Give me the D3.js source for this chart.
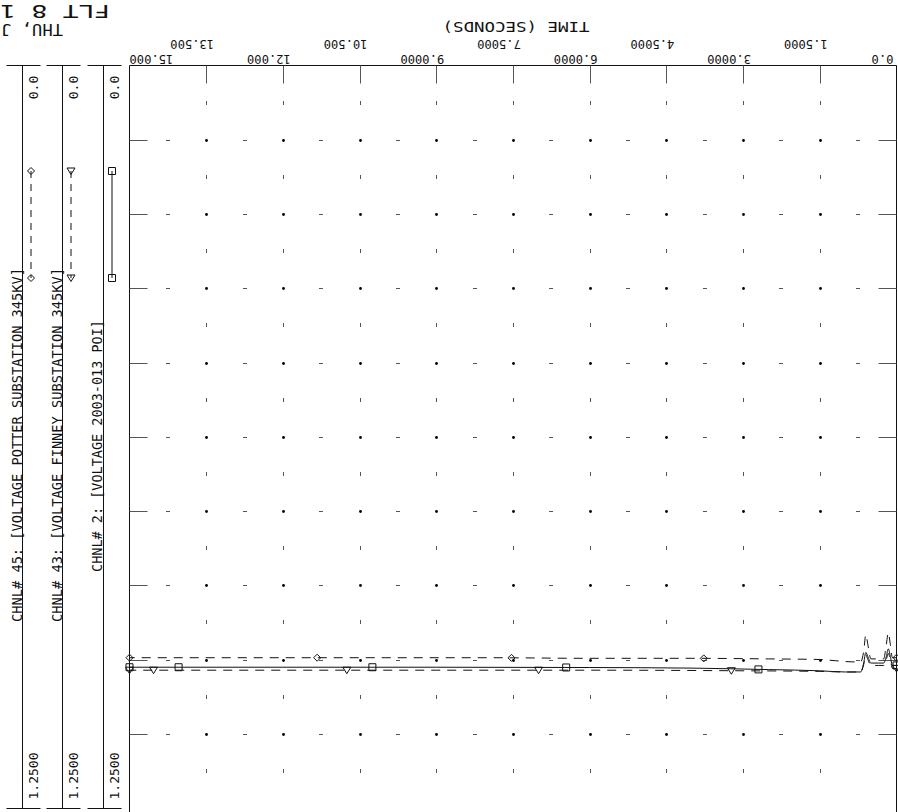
<!DOCTYPE html>
<html><head><meta charset="utf-8">
<script src="https://cdn.jsdelivr.net/npm/d3@7"></script>
<style>body{margin:0;background:#fff}</style>
</head><body><svg id="c" width="898" height="812"></svg>
<script>
// ---------- data ----------
const timeTicks = [0, 1.5, 3, 4.5, 6, 7.5, 9, 10.5, 12, 13.5, 15];
const timeTickLabels = ["0.0", "1.5000", "3.0000", "4.5000", "6.0000", "7.5000", "9.0000", "10.500", "12.000", "13.500", "15.000"];
const voltTicks = [0, 0.125, 0.25, 0.375, 0.5, 0.625, 0.75, 0.875, 1.0, 1.125, 1.25];
const voltAxisLabels = ["0.0", "1.2500"];
const channelNames = [
  "CHNL# 45: [VOLTAGE POTTER SUBSTATION 345KV]",
  "CHNL# 43: [VOLTAGE FINNEY SUBSTATION 345KV]",
  "CHNL# 2: [VOLTAGE 2003-013 POI]"
];
const headerTitle = "FLT 8 1";
const headerDate = "THU, J";
const xAxisTitle = "TIME (SECONDS)";

const potterT = [0, 0.08, 0.12, 0.16, 0.20, 0.25, 0.35, 0.50, 0.56, 0.60, 0.64, 0.70, 0.85, 1.2, 1.5, 2.5, 4, 6, 8, 10, 12, 15];
const potterV = [0.997, 0.997, 0.975, 0.955, 0.975, 0.999, 0.999, 0.999, 0.975, 0.958, 0.985, 1.004, 1.004, 1.002, 1.000, 0.999, 0.998, 0.998, 0.997, 0.997, 0.997, 0.997];
const potterMarkT = [0, 3.77, 7.53, 11.33, 15];

const finneyT = [0, 0.08, 0.12, 0.16, 0.20, 0.25, 0.35, 0.50, 0.56, 0.60, 0.64, 0.70, 1.0, 1.5, 3, 6, 9, 12, 15];
const finneyV = [1.015, 1.015, 1.000, 0.990, 1.000, 1.010, 1.010, 1.010, 1.000, 0.992, 1.008, 1.021, 1.021, 1.020, 1.019, 1.018, 1.018, 1.018, 1.018];
const finneyMarkT = [0, 3.23, 7.0, 10.75, 14.53, 15];

const poiT = [0, 0.08, 0.12, 0.16, 0.20, 0.25, 0.35, 0.50, 0.56, 0.60, 0.64, 0.70, 1.0, 1.5, 2.5, 4, 6, 9, 12, 15];
const poiV = [1.010, 1.010, 0.995, 0.982, 0.995, 1.006, 1.006, 1.006, 0.995, 0.988, 1.005, 1.021, 1.021, 1.019, 1.017, 1.0145, 1.0135, 1.013, 1.013, 1.013];
const poiMarkT = [0, 2.70, 6.46, 10.25, 14.04, 15];

// ---------- layout ----------
const svg = d3.select("#c");
svg.append("rect").attr("width", 898).attr("height", 812).attr("fill", "#fff");
const X0 = 129.5, X1 = 896.5, Y0 = 65.5, Y1 = 808;
const x = d3.scaleLinear().domain([0, 15]).range([X1, X0]);
const y = d3.scaleLinear().domain([0, 1.25]).range([Y0, Y1]);
const FONT = "DejaVu Sans Mono, Liberation Mono, monospace";
const ink = "#111";

function txt(str, tx, ty, rot, anchor, size, len) {
  const t = svg.append("text")
    .attr("transform", `translate(${tx},${ty}) rotate(${rot})`)
    .attr("text-anchor", anchor)
    .attr("font-family", FONT)
    .attr("font-size", size)
    .attr("fill", ink)
    .text(str);
  if (len) t.attr("textLength", len).attr("lengthAdjust", "spacingAndGlyphs");
  return t;
}

// header texts (rotated 180)
txt(headerTitle, 110, 4.5, 180, "start", 18, 110);
txt(headerDate, 63, 24, 180, "start", 16, 62);
txt(xAxisTitle, 516, 22, 180, "middle", 14, 147);

// time tick labels
timeTicks.forEach((t, i) => {
  const lab = timeTickLabels[i];
  const w = lab.length * 7.3;
  let cx = x(t) - 14;
  cx = Math.max(cx, X0 + w / 2);
  const ty = (i % 2 === 1) ? 40 : 55;
  txt(lab, cx, ty, 180, "middle", 12, w);
});

// plot frame
const g = svg.append("g").attr("fill", "none").attr("stroke", ink).attr("stroke-width", 1);
g.append("line").attr("x1", X0).attr("x2", X1).attr("y1", Y0).attr("y2", Y0);
g.append("line").attr("x1", X0).attr("x2", X0).attr("y1", Y0).attr("y2", 812);
g.append("line").attr("x1", X1).attr("x2", X1).attr("y1", Y0).attr("y2", 812);

// grid ticks and marks
const grid = svg.append("g").attr("stroke", "#555").attr("stroke-width", 1);
const majorX = timeTicks.slice(1, -1);
const majorY = voltTicks.slice(1, -1);
majorX.forEach(t => {
  const px = Math.round(x(t)) + 0.5;
  grid.append("line").attr("x1", px).attr("x2", px).attr("y1", Y0).attr("y2", Y0 + 18);
});
majorY.forEach(v => {
  const py = Math.round(y(v)) + 0.5;
  grid.append("line").attr("x1", X0).attr("x2", X0 + 18).attr("y1", py).attr("y2", py);
  grid.append("line").attr("x1", X1 - 18).attr("x2", X1).attr("y1", py).attr("y2", py);
});
// intersections
majorX.forEach(t => majorY.forEach(v => {
  const px = Math.round(x(t)) + 0.5, py = Math.round(y(v)) + 0.5;
  svg.append("circle").attr("cx", px).attr("cy", py).attr("r", 1.4).attr("fill", "#000");
}));
// mid-x dashes on horizontal majors
for (let i = 0; i < timeTicks.length - 1; i++) {
  const tm = (timeTicks[i] + timeTicks[i + 1]) / 2;
  majorY.forEach(v => {
    const px = Math.round(x(tm)), py = Math.round(y(v)) + 0.5;
    grid.append("line").attr("x1", px - 2).attr("x2", px + 2).attr("y1", py).attr("y2", py);
  });
}
// mid-y dashes on vertical majors
for (let j = 0; j < voltTicks.length - 1; j++) {
  const vm = (voltTicks[j] + voltTicks[j + 1]) / 2;
  majorX.forEach(t => {
    const px = Math.round(x(t)) + 0.5, py = Math.round(y(vm));
    grid.append("line").attr("x1", px).attr("x2", px).attr("y1", py - 2).attr("y2", py + 2);
  });
}

// channel axes on the left
const chanX = [22.5, 62.5, 103.5];
const chanStyle = [
  { dash: "7,6", marker: "diamond" },
  { dash: "7,6", marker: "triangle" },
  { dash: null, marker: "square" }
];
function marker(sel, type, cx, cy) {
  const m = sel.append("path").attr("fill", "none").attr("stroke", ink).attr("stroke-width", 1);
  if (type === "diamond") m.attr("d", `M${cx},${cy - 3.5}L${cx + 3.5},${cy}L${cx},${cy + 3.5}L${cx - 3.5},${cy}Z`);
  else if (type === "triangle") m.attr("d", `M${cx - 4},${cy - 3}L${cx + 4},${cy - 3}L${cx},${cy + 3.5}Z`);
  else m.attr("d", `M${cx - 3.5},${cy - 3.5}h7v7h-7Z`);
}
chanX.forEach((cxv, i) => {
  g.append("line").attr("x1", cxv).attr("x2", cxv).attr("y1", Y0).attr("y2", Y1);
  g.append("line").attr("x1", cxv - 16).attr("x2", cxv + 18).attr("y1", Y0).attr("y2", Y0);
  g.append("line").attr("x1", cxv - 16).attr("x2", cxv + 18).attr("y1", Y1 + 0.5).attr("y2", Y1 + 0.5);
  txt(voltAxisLabels[0], cxv + 15.5, y(voltTicks[0]) + 22, -90, "middle", 13);
  txt(voltAxisLabels[1], cxv + 15.5, y(voltTicks[voltTicks.length - 1]) - 32, -90, "middle", 13);
  // legend sample
  const lx = cxv + 8.5;
  const ll = g.append("line").attr("x1", lx).attr("x2", lx).attr("y1", 171).attr("y2", 278);
  if (chanStyle[i].dash) ll.attr("stroke-dasharray", chanStyle[i].dash);
  marker(svg, chanStyle[i].marker, lx, 171);
  marker(svg, chanStyle[i].marker, lx, 278);
});
// channel names
txt(channelNames[0], 22, 622, -90, "start", 13.5, 354);
txt(channelNames[1], 62, 622, -90, "start", 13.5, 354);
txt(channelNames[2], 102, 572, -90, "start", 13.5, 252);

// traces
const series = [
  { t: potterT, v: potterV, m: potterMarkT, dash: "9,7", marker: "diamond" },
  { t: finneyT, v: finneyV, m: finneyMarkT, dash: "9,7", marker: "triangle" },
  { t: poiT, v: poiV, m: poiMarkT, dash: null, marker: "square" }
];
const line = d3.line().x(d => x(d[0])).y(d => y(d[1])).curve(d3.curveMonotoneX);
series.forEach(s => {
  const pts = s.t.map((t, i) => [t, s.v[i]]);
  const p = svg.append("path").datum(pts).attr("d", line)
    .attr("fill", "none").attr("stroke", ink).attr("stroke-width", 1);
  if (s.dash) p.attr("stroke-dasharray", s.dash);
  const interp = d3.scaleLinear().domain(s.t).range(s.v);
  s.m.forEach(t => marker(svg, s.marker, x(t), y(interp(t))));
});
</script></body></html>
